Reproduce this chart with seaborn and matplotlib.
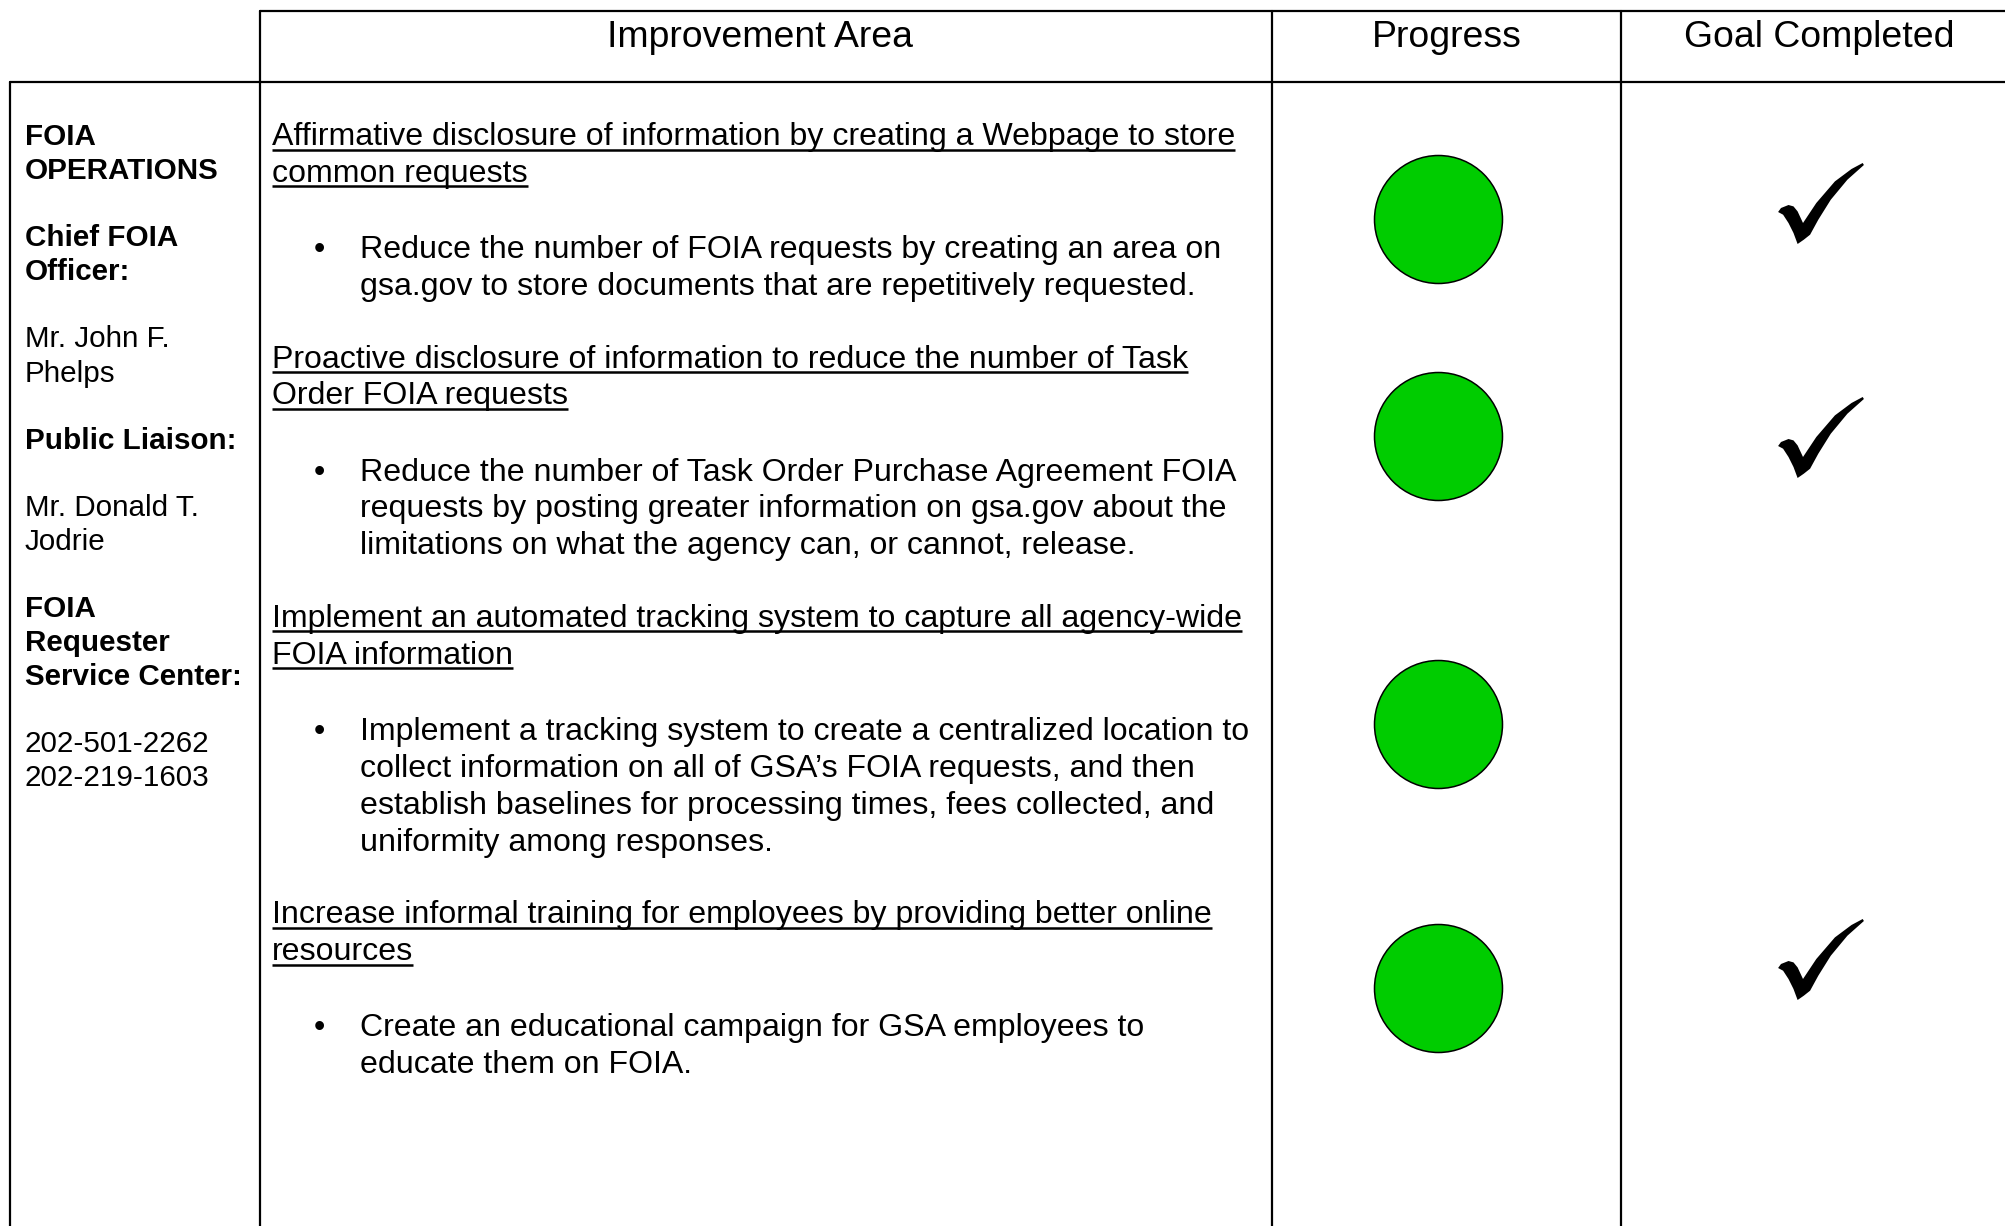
import numpy as np
import matplotlib
matplotlib.use("Agg")
import matplotlib.pyplot as plt
from matplotlib.path import Path
from matplotlib.markers import MarkerStyle
import seaborn as sns

# ---- data ----
column_headers = ["Improvement Area", "Progress", "Goal Completed"]

side_groups = [
    ["FOIA", "OPERATIONS"],
    ["Chief FOIA", "Officer:"],
    ["Mr. John F.", "Phelps"],
    ["Public Liaison:"],
    ["Mr. Donald T.", "Jodrie"],
    ["FOIA", "Requester", "Service Center:"],
    ["202-501-2262", "202-219-1603"],
]
side_bold = [True, True, False, True, False, True, False]

goal_titles = [
    ["Affirmative disclosure of information by creating a Webpage to store", "common requests"],
    ["Proactive disclosure of information to reduce the number of Task", "Order FOIA requests"],
    ["Implement an automated tracking system to capture all agency-wide", "FOIA information"],
    ["Increase informal training for employees by providing better online", "resources"],
]
goal_details = [
    ["Reduce the number of FOIA requests by creating an area on",
     "gsa.gov to store documents that are repetitively requested."],
    ["Reduce the number of Task Order Purchase Agreement FOIA",
     "requests by posting greater information on gsa.gov about the",
     "limitations on what the agency can, or cannot, release."],
    ["Implement a tracking system to create a centralized location to",
     "collect information on all of GSA\u2019s FOIA requests, and then",
     "establish baselines for processing times, fees collected, and",
     "uniformity among responses."],
    ["Create an educational campaign for GSA employees to",
     "educate them on FOIA."],
]
progress_status = ["green", "green", "green", "green"]
goal_completed = [True, True, False, True]

# ---- layout (pixels) ----
W, H = 2005, 1226
col_x = [10, 260, 1272, 1621]
header_top, header_bottom = 11, 82
circle_y = [219, 435.5, 723.5, 987.5]
check_y = [203.5, 437.5, 959.5]
status_colors = {"green": "#00CC00"}
body_fs = 23.1

sns.set_theme(style="white")
plt.rcParams["font.family"] = ["Liberation Sans", "DejaVu Sans"]

fig = plt.figure(figsize=(W / 100, H / 100), dpi=100)
ax = fig.add_axes([0, 0, 1, 1])
ax.set_xlim(0, W)
ax.set_ylim(H, 0)
ax.axis("off")

lw = 1.6
# table rules
ax.plot([col_x[1], W], [header_top, header_top], color="black", lw=lw)
ax.plot([col_x[0], W], [header_bottom, header_bottom], color="black", lw=lw)
ax.plot([col_x[0], col_x[0]], [header_bottom, H], color="black", lw=lw)
for x in col_x[1:]:
    ax.plot([x, x], [header_top, H], color="black", lw=lw)

# headers
header_centers = [760, (col_x[2] + col_x[3]) / 2, 1819]
for name, cx in zip(column_headers, header_centers):
    ax.text(cx, 47, name, fontsize=26.9, ha="center", va="baseline", color="black")

# side column
y = 145
for group, bold in zip(side_groups, side_bold):
    for line in group:
        ax.text(25, y, line, fontsize=21.3, ha="left", va="baseline",
                fontweight="bold" if bold else "normal", color="black")
        y += 34.1
    y += 67.1 - 34.1

# goals
line_h = 36.95
y = 145
title_texts = []
for title, detail in zip(goal_titles, goal_details):
    for line in title:
        t = ax.text(272, y, line, fontsize=body_fs, ha="left", va="baseline", color="black")
        title_texts.append((t, y))
        y += line_h
    y += 76.1 - line_h
    ax.text(319, y, "\u2022", fontsize=body_fs, ha="center", va="baseline", color="black")
    for line in detail:
        ax.text(360.5, y, line, fontsize=body_fs, ha="left", va="baseline", color="black")
        y += line_h
    y += 72.5 - line_h

# underline the goal titles
fig.canvas.draw()
renderer = fig.canvas.get_renderer()
for t, base in title_texts:
    bb = t.get_window_extent(renderer)
    ax.plot([bb.x0, bb.x1], [base + 4.5, base + 4.5], color="black", lw=1.8,
            solid_capstyle="butt")

# progress circles
prog_x = [1438.5] * len(progress_status)
sns.scatterplot(x=prog_x, y=circle_y, marker="o", s=(128 * 0.72) ** 2,
                color=[status_colors[s] for s in progress_status][0],
                edgecolor="black", linewidth=1.1, ax=ax, zorder=3, legend=False)

# check marks
check_pts = np.array([
    (478.0, 112.3), (480.9, 108.3), (488.4, 105.3), (493.4, 106.7), (497.5, 111.7),
    (502.9, 123.3), (516.2, 103.3), (534.8, 81.7), (551.4, 69.3), (562.6, 63.3),
    (563.8, 65.3), (547.3, 80.0), (530.7, 100.0), (518.2, 120.0), (510.0, 135.0),
    (503.7, 140.0), (497.5, 144.3), (493.4, 133.3), (488.4, 123.3), (483.0, 115.0),
])
ctr = (check_pts.min(axis=0) + check_pts.max(axis=0)) / 2
verts = check_pts - ctr
verts[:, 1] *= -1
verts = np.vstack([verts, verts[:1]])
codes = [Path.MOVETO] + [Path.LINETO] * (len(verts) - 2) + [Path.CLOSEPOLY]
check_marker = MarkerStyle(Path(verts, codes))
half = np.abs(verts).max()
done_y = [cy for cy in check_y]
done_x = [1821] * sum(goal_completed)
sns.scatterplot(x=done_x, y=done_y, marker=check_marker, s=(2 * half * 0.72) ** 2,
                color="black", edgecolor="none", linewidth=0, ax=ax, zorder=3, legend=False)

fig.savefig("out.png", dpi=100)
